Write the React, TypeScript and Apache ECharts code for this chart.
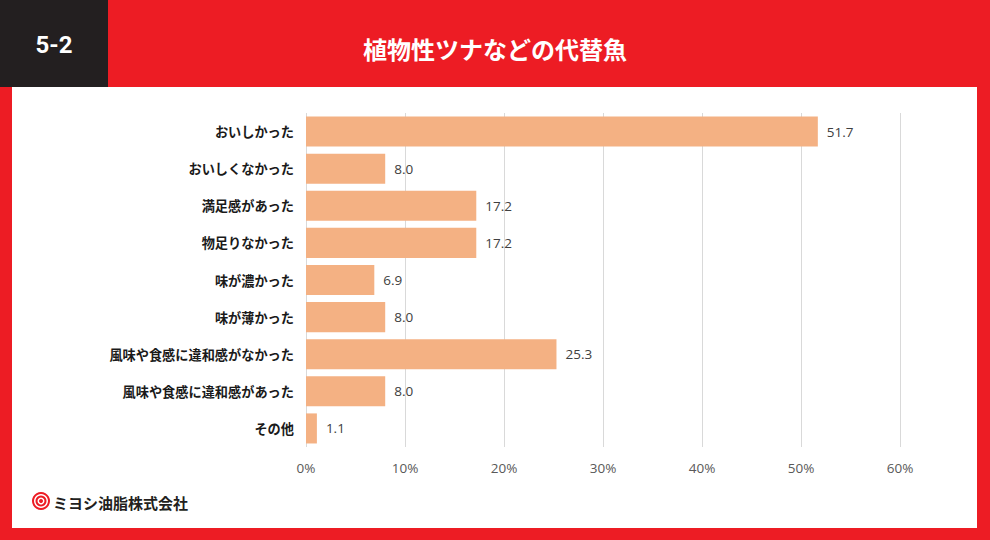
import React, { useEffect, useRef } from "react";
import * as echarts from "echarts";

const categories = [
  "おいしかった",
  "おいしくなかった",
  "満足感があった",
  "物足りなかった",
  "味が濃かった",
  "味が薄かった",
  "風味や食感に違和感がなかった",
  "風味や食感に違和感があった",
  "その他",
];
const values = [51.7, 8.0, 17.2, 17.2, 6.9, 8.0, 25.3, 8.0, 1.1];
const xTicks = [0, 10, 20, 30, 40, 50, 60];

const RED = "#ED1C24";
const DARK = "#231F20";
const BAR = "#F4B183";
const JP = "'Noto Sans CJK JP', 'Noto Sans', sans-serif";

export default function App() {
  const ref = useRef<HTMLDivElement>(null);
  useEffect(() => {
    document.body.style.margin = "0";
    const chart = echarts.init(ref.current!, null, { renderer: "svg" });
    chart.setOption({
      animation: false,
      backgroundColor: RED,
      graphic: [
        { type: "rect", shape: { x: 12, y: 87, width: 965, height: 441 }, style: { fill: "#ffffff" }, z: -10 },
        { type: "rect", shape: { x: 0, y: 0, width: 108, height: 87 }, style: { fill: DARK } },
        {
          type: "text",
          x: 54,
          y: 45,
          style: { text: "5-2", fill: "#fff", font: `bold 24px Roboto, 'Noto Sans', sans-serif`, align: "center", verticalAlign: "middle" },
        },
        {
          type: "text",
          x: 495,
          y: 48,
          style: { text: "植物性ツナなどの代替魚", fill: "#fff", font: `bold 24px ${JP}`, align: "center", verticalAlign: "middle" },
        },
        { type: "circle", shape: { cx: 41, cy: 501, r: 9 }, style: { fill: RED } },
        { type: "circle", shape: { cx: 41, cy: 501, r: 7 }, style: { fill: "#fff" } },
        { type: "circle", shape: { cx: 41, cy: 501, r: 5.5 }, style: { fill: RED } },
        { type: "circle", shape: { cx: 41, cy: 501, r: 3.5 }, style: { fill: "#fff" } },
        { type: "circle", shape: { cx: 41, cy: 501, r: 2 }, style: { fill: RED } },
        {
          type: "text",
          x: 53,
          y: 502,
          style: { text: "ミヨシ油脂株式会社", fill: DARK, font: `bold 15px ${JP}`, align: "left", verticalAlign: "middle" },
        },
      ],
      grid: { left: 306, right: 90, top: 113, bottom: 93, containLabel: false },
      xAxis: {
        type: "value",
        min: 0,
        max: 60,
        interval: 10,
        axisLine: { show: false },
        axisTick: { show: false },
        splitLine: { show: true, lineStyle: { color: "#d9d9d9", width: 1 } },
        axisLabel: {
          margin: 14,
          color: "#595959",
          fontSize: 13.5,
          fontFamily: "'Open Sans', sans-serif",
          formatter: (v: number) => (xTicks.includes(v) ? `${v}%` : ""),
        },
      },
      yAxis: {
        type: "category",
        data: categories,
        inverse: true,
        axisLine: { show: false },
        axisTick: { show: false },
        axisLabel: { margin: 12, color: "#1a1a1a", fontSize: 13.2, fontWeight: "bold", fontFamily: JP },
      },
      series: [
        {
          type: "bar",
          data: values,
          barCategoryGap: "19%",
          itemStyle: { color: BAR },
          label: {
            show: true,
            position: "right",
            distance: 9,
            color: "#404040",
            fontSize: 13.5,
            fontFamily: "'Open Sans', sans-serif",
            formatter: (p: any) => Number(p.value).toFixed(1),
          },
        },
      ],
    });
    return () => chart.dispose();
  }, []);
  return <div ref={ref} style={{ width: 990, height: 540 }} />;
}
